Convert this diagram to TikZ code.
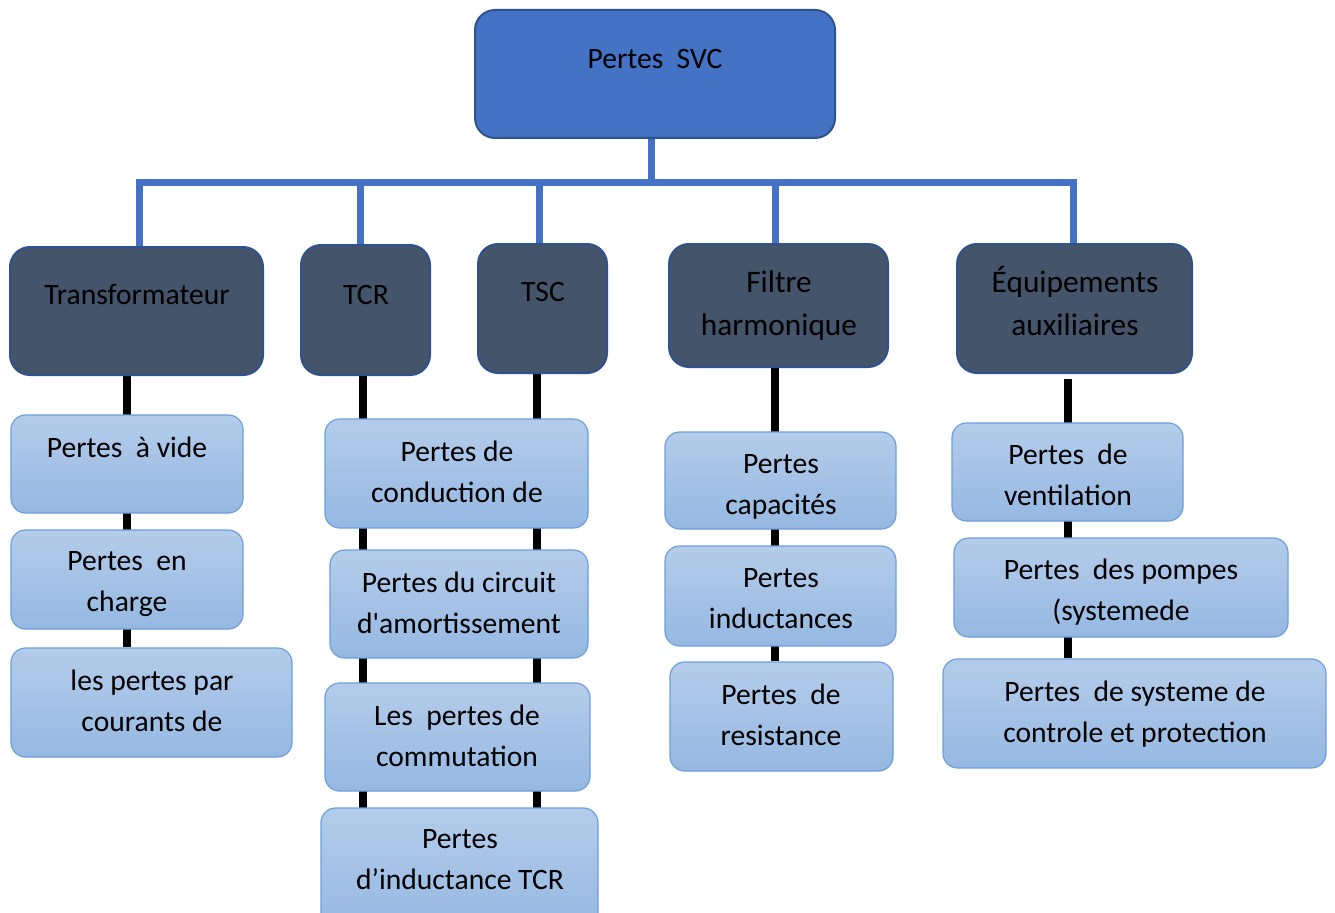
\documentclass[tikz,border=0pt]{standalone}
\usepackage{fontspec}
\setmainfont{Carlito}
\usetikzlibrary{fit}
\definecolor{topfill}{HTML}{4472C4}
\definecolor{borderblue}{HTML}{2F528F}
\definecolor{darkfill}{HTML}{44546A}
\definecolor{lighttop}{HTML}{B4CCEA}
\definecolor{lightbot}{HTML}{95B8E2}
\definecolor{lightborder}{HTML}{6A9FDB}
\begin{document}
\begin{tikzpicture}[x=0.75pt,y=-0.75pt,
  topbox/.style={draw=borderblue, line width=1.5pt, fill=topfill, rounded corners=15pt, inner sep=0pt},
  darkbox/.style={draw=borderblue, line width=1.5pt, fill=darkfill, rounded corners=15pt, inner sep=0pt},
  lightbox/.style={draw=lightborder, line width=0.9pt, top color=lighttop, bottom color=lightbot, rounded corners=11pt, inner sep=0pt},
  txt/.style={font=\fontsize{22.2}{30.75}\selectfont, align=center, inner sep=0pt, text=black},
  htxt/.style={font=\fontsize{23.5}{32.25}\selectfont, align=center, inner sep=0pt, text=black},
  blueline/.style={draw=topfill, line width=5.25pt},
  blackline/.style={draw=black, line width=6pt}]
\useasboundingbox (0,0) rectangle (1335,913);
\coordinate (bar) at (0,183);
\pgfdeclarelayer{bg}\pgfsetlayers{bg,main}
\node[topbox, fit={(475,10) (835,138)}] (top) {};
\node[darkbox, fit={(10,247) (263,375)}] (trans) {};
\node[darkbox, fit={(301,245) (430,375)}] (tcr) {};
\node[darkbox, fit={(478,244) (607,373)}] (tsc) {};
\node[darkbox, fit={(669,244) (888,367)}] (filt) {};
\node[darkbox, fit={(957,244) (1192,373)}] (equip) {};
\node[lightbox, fit={(11,415) (243,513)}] (l1) {};
\node[lightbox, fit={(11,530) (243,629)}] (l2) {};
\node[lightbox, fit={(11,648) (292,757)}] (l3) {};
\node[lightbox, fit={(325,419) (588,528)}] (c1) {};
\node[lightbox, fit={(330,550) (588,658)}] (c2) {};
\node[lightbox, fit={(325,683) (590,791)}] (c3) {};
\node[lightbox, fit={(321,808) (598,930)}] (c4) {};
\node[lightbox, fit={(665,432) (896,529)}] (f1) {};
\node[lightbox, fit={(665,546) (896,646)}] (f2) {};
\node[lightbox, fit={(670,662) (893,771)}] (f3) {};
\node[lightbox, fit={(952,423) (1183,521)}] (e1) {};
\node[lightbox, fit={(954,538) (1288,637)}] (e2) {};
\node[lightbox, fit={(943,659) (1326,768)}] (e3) {};
% texts
\node[txt] (topt) at (655,60) {\strut Pertes~~SVC};
\node[txt] (transt) at (137,296) {\strut Transformateur};
\node[txt] (tcrt) at (366,296) {\strut TCR};
\node[txt] (tsct) at (543,293) {\strut TSC};
\node[htxt] (filtt) at (779,305) {\strut Filtre\\\strut harmonique};
\node[htxt] (equipt) at (1075,305) {\strut Équipements\\\strut auxiliaires};
\node[txt] (l1t) at (127,449) {\strut Pertes~~à vide};
\node[txt] (l2t) at (127,583) {\strut Pertes~~en\\\strut charge};
\node[txt] (l3t) at (152,703) {\strut les pertes par\\\strut courants de};
\node[txt] (c1t) at (457,473.5) {\strut Pertes de\\\strut conduction de};
\node[txt] (c2t) at (459,604.5) {\strut Pertes du circuit\\\strut d\textquotesingle amortissement};
\node[txt] (c3t) at (457,737.5) {\strut Les~~pertes de\\\strut commutation};
\node[txt] (c4t) at (460,861) {\strut Pertes\\\strut d’inductance TCR};
\node[txt] (f1t) at (781,485.5) {\strut Pertes\\\strut capacités};
\node[txt] (f2t) at (781,599.5) {\strut Pertes\\\strut inductances};
\node[txt] (f3t) at (781,716.5) {\strut Pertes~~de\\\strut resistance};
\node[txt] (e1t) at (1068,476.5) {\strut Pertes~~de\\\strut ventilation};
\node[txt] (e2t) at (1121,592) {\strut Pertes~~des pompes\\\strut (systemede};
\node[txt] (e3t) at (1135,713.5) {\strut Pertes~~de systeme de\\\strut controle et protection};
% connectors
\begin{pgfonlayer}{bg}
\draw[blueline] ([xshift=-3pt]top.south) -- ([xshift=-3pt]top.south |- bar);
\draw[blueline] ([xshift=1.9pt]trans.north) -- ([xshift=1.9pt]trans.north |- bar) -- ([xshift=-1.1pt]equip.north |- bar) -- ([xshift=-1.1pt]equip.north);
\draw[blueline] ([xshift=-3.4pt]tcr.north |- bar) -- ([xshift=-3.4pt]tcr.north);
\draw[blueline] ([xshift=-1.9pt]tsc.north |- bar) -- ([xshift=-1.9pt]tsc.north);
\draw[blueline] ([xshift=-1.9pt]filt.north |- bar) -- ([xshift=-1.9pt]filt.north);
\draw[blackline] (trans.south -| l1.north) -- (l1.north |- l3.north);
\draw[blackline] ([xshift=-1.9pt]tcr.south) -- ([xshift=-1.9pt]tcr.south |- c4.south);
\draw[blackline] ([xshift=-4.1pt]tsc.south) -- ([xshift=-4.1pt]tsc.south |- c4.south);
\draw[blackline] ([xshift=-2.6pt]filt.south) -- ([xshift=-2.6pt]filt.south |- f3.north);
\draw[blackline, shorten <=4pt] (equip.south -| e1.north) -- (e1.north |- e3.north);
\end{pgfonlayer}
\end{tikzpicture}
\end{document}
